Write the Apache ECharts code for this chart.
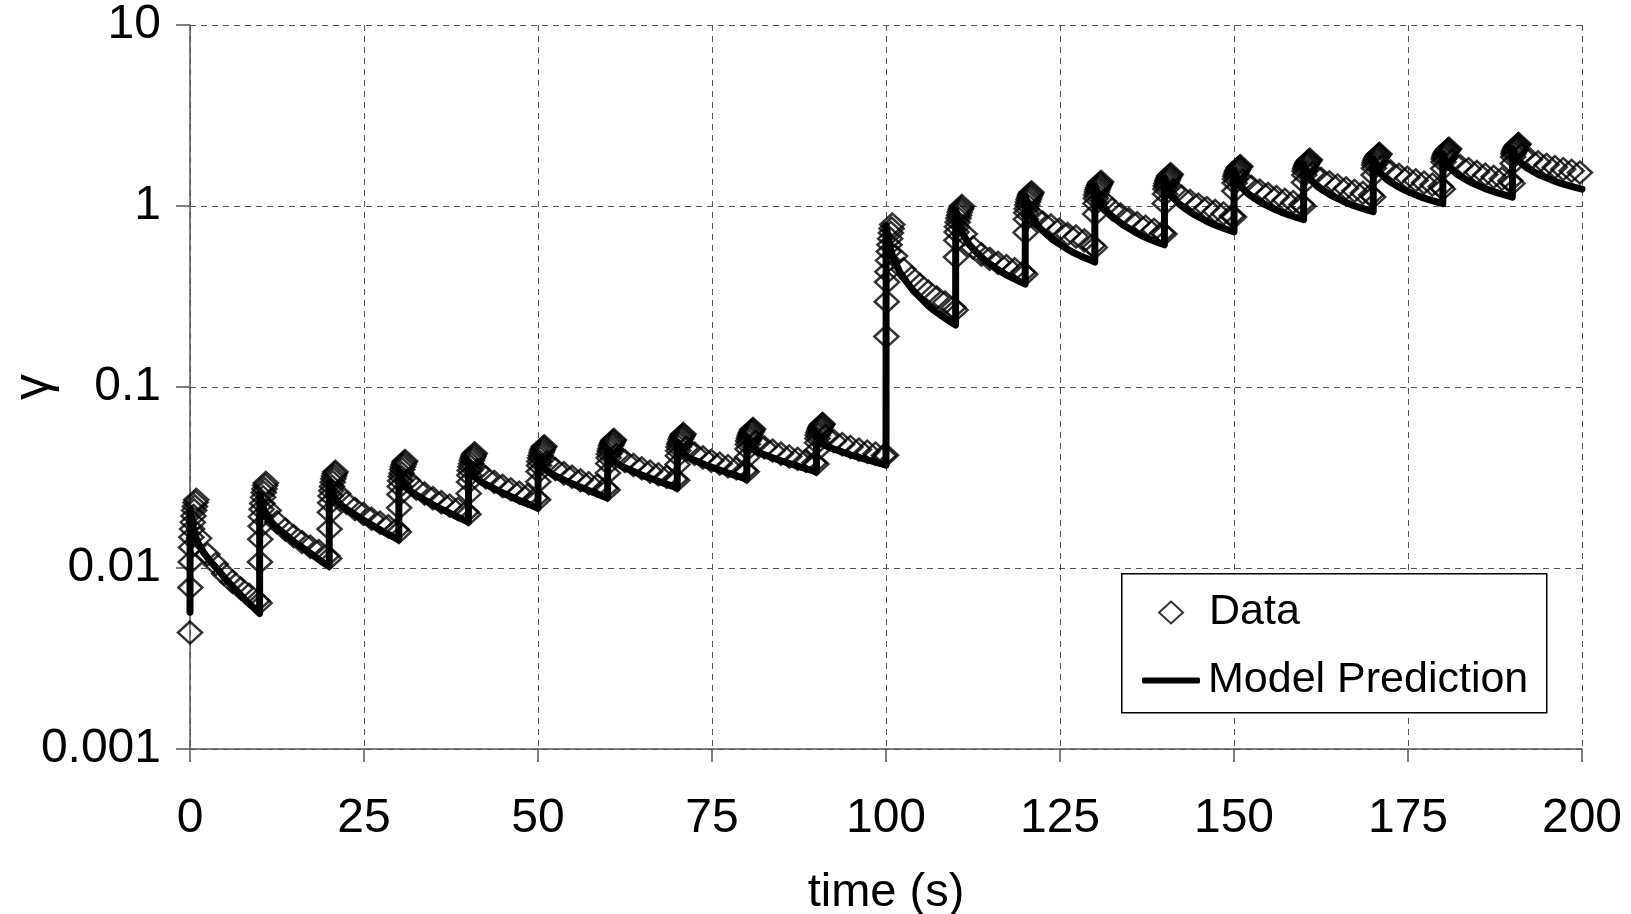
<!DOCTYPE html>
<html>
<head>
<meta charset="utf-8">
<title>gamma vs time</title>
<script src="https://cdn.jsdelivr.net/npm/echarts@6/dist/echarts.min.js"></script>
<style>
  html, body { margin: 0; padding: 0; background: #fff; }
  #chart { width: 1631px; height: 914px; }
</style>
</head>
<body>
<div id="chart"></div>
<script>
// each loading cycle starts every 10 s
var cycleStarts = [0, 10, 20, 30, 40, 50, 60, 70, 80, 90, 100, 110, 120, 130, 140, 150, 160, 170, 180, 190];

// measured points: time offsets inside a cycle, one row of gamma per cycle
var dataOffsets = [0, 0.05, 0.1, 0.15, 0.2, 0.3, 0.4, 0.5, 0.6, 0.7, 0.8, 0.9, 1.3, 2.5, 3.7, 4.9, 6.1, 7.3, 8.5, 9.7];
var gammaData = [
    [0.0044, 0.0078, 0.0108, 0.0130, 0.0148, 0.0164, 0.0179, 0.0194, 0.0208, 0.0219, 0.0230, 0.0238, 0.0146, 0.0119, 0.0105, 0.0093, 0.0084, 0.0077, 0.0071, 0.0066],
    [0.0064, 0.0108, 0.0144, 0.0170, 0.0192, 0.0211, 0.0227, 0.0246, 0.0261, 0.0273, 0.0286, 0.0295, 0.0208, 0.0179, 0.0163, 0.0150, 0.0139, 0.0131, 0.0124, 0.0117],
    [0.0113, 0.0164, 0.0203, 0.0229, 0.0250, 0.0267, 0.0282, 0.0298, 0.0311, 0.0322, 0.0333, 0.0340, 0.0257, 0.0229, 0.0212, 0.0199, 0.0187, 0.0178, 0.0170, 0.0163],
    [0.0158, 0.0215, 0.0255, 0.0282, 0.0303, 0.0320, 0.0334, 0.0350, 0.0363, 0.0373, 0.0383, 0.0390, 0.0305, 0.0275, 0.0258, 0.0243, 0.0231, 0.0221, 0.0212, 0.0204],
    [0.0198, 0.0258, 0.0299, 0.0325, 0.0346, 0.0363, 0.0377, 0.0392, 0.0404, 0.0414, 0.0423, 0.0430, 0.0347, 0.0317, 0.0299, 0.0284, 0.0272, 0.0261, 0.0252, 0.0244],
    [0.0238, 0.0300, 0.0341, 0.0368, 0.0388, 0.0405, 0.0419, 0.0433, 0.0445, 0.0454, 0.0464, 0.0470, 0.0384, 0.0352, 0.0334, 0.0319, 0.0305, 0.0294, 0.0285, 0.0276],
    [0.0270, 0.0335, 0.0378, 0.0406, 0.0427, 0.0443, 0.0458, 0.0473, 0.0485, 0.0494, 0.0504, 0.0510, 0.0422, 0.0390, 0.0371, 0.0355, 0.0341, 0.0329, 0.0319, 0.0310],
    [0.0305, 0.0373, 0.0417, 0.0445, 0.0466, 0.0483, 0.0497, 0.0512, 0.0525, 0.0534, 0.0543, 0.0550, 0.0461, 0.0428, 0.0408, 0.0391, 0.0377, 0.0365, 0.0355, 0.0345],
    [0.0340, 0.0409, 0.0454, 0.0482, 0.0503, 0.0520, 0.0534, 0.0549, 0.0561, 0.0570, 0.0580, 0.0586, 0.0498, 0.0464, 0.0445, 0.0428, 0.0413, 0.0401, 0.0391, 0.0381],
    [0.0375, 0.0446, 0.0492, 0.0520, 0.0542, 0.0558, 0.0573, 0.0588, 0.0600, 0.0609, 0.0619, 0.0625, 0.0536, 0.0503, 0.0483, 0.0466, 0.0451, 0.0439, 0.0428, 0.0418],
    [0.042, 0.19, 0.296, 0.38, 0.433, 0.50, 0.56, 0.61, 0.66, 0.71, 0.75, 0.79, 0.529, 0.447, 0.402, 0.366, 0.336, 0.312, 0.293, 0.275],
    [0.266, 0.522, 0.646, 0.718, 0.767, 0.814, 0.856, 0.890, 0.923, 0.953, 0.976, 1.0, 0.70, 0.59, 0.54, 0.51, 0.485, 0.465, 0.447, 0.43],
    [0.42, 0.714, 0.844, 0.917, 0.966, 1.013, 1.053, 1.086, 1.118, 1.146, 1.168, 1.19, 0.88, 0.81, 0.78, 0.74, 0.70, 0.678, 0.645, 0.605],
    [0.59, 0.903, 1.032, 1.103, 1.151, 1.195, 1.233, 1.264, 1.293, 1.320, 1.339, 1.36, 1.062, 0.958, 0.897, 0.846, 0.803, 0.768, 0.738, 0.71],
    [0.70, 1.033, 1.166, 1.240, 1.288, 1.333, 1.372, 1.403, 1.433, 1.459, 1.479, 1.50, 1.225, 1.125, 1.066, 1.016, 0.974, 0.938, 0.909, 0.88],
    [0.87, 1.209, 1.341, 1.412, 1.459, 1.502, 1.539, 1.568, 1.597, 1.622, 1.641, 1.66, 1.379, 1.276, 1.216, 1.164, 1.119, 1.081, 1.050, 1.02],
    [1.0, 1.350, 1.483, 1.554, 1.600, 1.643, 1.680, 1.709, 1.738, 1.762, 1.781, 1.80, 1.518, 1.413, 1.351, 1.298, 1.252, 1.213, 1.181, 1.15],
    [1.12, 1.482, 1.618, 1.691, 1.738, 1.782, 1.819, 1.848, 1.877, 1.902, 1.921, 1.94, 1.656, 1.550, 1.486, 1.432, 1.385, 1.345, 1.312, 1.28],
    [1.24, 1.610, 1.748, 1.821, 1.868, 1.912, 1.949, 1.979, 2.007, 2.032, 2.051, 2.07, 1.774, 1.663, 1.597, 1.540, 1.490, 1.449, 1.414, 1.38],
    [1.33, 1.719, 1.863, 1.940, 1.990, 2.035, 2.074, 2.104, 2.134, 2.160, 2.180, 2.20, 1.917, 1.808, 1.744, 1.688, 1.639, 1.598, 1.564, 1.53]
];

// model curve: jump at the cycle start, then decay
var modelOffsets = [0, 0.02, 0.5, 1, 2, 3, 4, 5, 6, 7, 8, 9];
var gammaModel = [
    [0.0057, 0.021, 0.0166, 0.0141, 0.0121, 0.0108, 0.0098, 0.0088, 0.0080, 0.0073, 0.0066, 0.0061],
    [0.0056, 0.0255, 0.0216, 0.0194, 0.0174, 0.0161, 0.0150, 0.0139, 0.0131, 0.0123, 0.0115, 0.0108],
    [0.0102, 0.0295, 0.0259, 0.0237, 0.0218, 0.0205, 0.0194, 0.0183, 0.0174, 0.0165, 0.0157, 0.0150],
    [0.0143, 0.034, 0.0303, 0.0280, 0.0260, 0.0247, 0.0234, 0.0223, 0.0213, 0.0204, 0.0195, 0.0187],
    [0.0179, 0.0375, 0.0339, 0.0317, 0.0296, 0.0283, 0.0271, 0.0259, 0.0249, 0.0239, 0.0230, 0.0222],
    [0.0214, 0.041, 0.0374, 0.0351, 0.0330, 0.0316, 0.0303, 0.0291, 0.0281, 0.0271, 0.0261, 0.0252],
    [0.0244, 0.0445, 0.0409, 0.0386, 0.0365, 0.0351, 0.0338, 0.0325, 0.0315, 0.0304, 0.0295, 0.0286],
    [0.0277, 0.048, 0.0444, 0.0421, 0.0400, 0.0386, 0.0372, 0.0360, 0.0349, 0.0338, 0.0328, 0.0319],
    [0.031, 0.051, 0.0474, 0.0452, 0.0430, 0.0416, 0.0403, 0.0390, 0.0379, 0.0369, 0.0358, 0.0349],
    [0.034, 0.054, 0.0504, 0.0482, 0.0461, 0.0447, 0.0434, 0.0421, 0.0410, 0.0399, 0.0389, 0.0379],
    [0.037, 0.78, 0.605, 0.520, 0.430, 0.379, 0.338, 0.310, 0.283, 0.263, 0.247, 0.233],
    [0.22, 0.95, 0.787, 0.703, 0.610, 0.555, 0.510, 0.477, 0.447, 0.422, 0.403, 0.386],
    [0.37, 1.13, 0.956, 0.865, 0.763, 0.702, 0.651, 0.614, 0.579, 0.551, 0.528, 0.509],
    [0.49, 1.30, 1.118, 1.021, 0.911, 0.845, 0.789, 0.748, 0.710, 0.678, 0.653, 0.631],
    [0.61, 1.43, 1.247, 1.148, 1.036, 0.967, 0.909, 0.867, 0.826, 0.793, 0.766, 0.742],
    [0.72, 1.57, 1.385, 1.285, 1.170, 1.099, 1.039, 0.995, 0.952, 0.917, 0.889, 0.864],
    [0.84, 1.70, 1.507, 1.401, 1.280, 1.205, 1.142, 1.095, 1.049, 1.012, 0.982, 0.956],
    [0.93, 1.83, 1.631, 1.523, 1.397, 1.319, 1.252, 1.203, 1.156, 1.116, 1.085, 1.057],
    [1.03, 1.95, 1.745, 1.633, 1.503, 1.421, 1.352, 1.301, 1.251, 1.211, 1.177, 1.148],
    [1.12, 2.08, 1.876, 1.762, 1.631, 1.549, 1.478, 1.426, 1.375, 1.333, 1.299, 1.269]
];
var modelEnd = [200, 1.24];

var FONT = 'Liberation Sans, Arial, sans-serif';

// turn cycle rows into [time, gamma] pairs
function toPoints(starts, offsets, rows) {
    var pts = [];
    for (var i = 0; i < rows.length; i++) {
        for (var j = 0; j < offsets.length; j++) {
            pts.push([+(starts[i] + offsets[j]).toFixed(2), rows[i][j]]);
        }
    }
    return pts;
}

var dataPoints = toPoints(cycleStarts, dataOffsets, gammaData);
var modelPoints = toPoints(cycleStarts, modelOffsets, gammaModel);
modelPoints.push(modelEnd);

var gridLine = { show: true, lineStyle: { color: '#555', width: 1, type: [6, 5] } };

var chart = echarts.init(document.getElementById('chart'));

chart.setOption({
    animation: false,
    backgroundColor: '#fff',
    textStyle: { fontFamily: FONT, color: '#000' },
    grid: { left: 190, right: 49, top: 25, bottom: 165, containLabel: false, outerBoundsMode: 'none' },
    xAxis: {
        type: 'value',
        min: 0,
        max: 200,
        interval: 25,
        name: 'time (s)',
        nameLocation: 'middle',
        nameGap: 121,
        nameMoveOverlap: false,
        nameTextStyle: { fontSize: 47, color: '#000', fontFamily: FONT },
        axisLine: { show: true, onZero: false, lineStyle: { color: '#555', width: 1.5 } },
        axisTick: { show: true, length: 13, lineStyle: { color: '#555', width: 1.5 } },
        axisLabel: { fontSize: 48, color: '#000', margin: 46, fontFamily: FONT },
        splitLine: gridLine
    },
    yAxis: {
        type: 'log',
        logBase: 10,
        min: 0.001,
        max: 10,
        name: 'γ',
        nameLocation: 'middle',
        nameGap: 130,
        nameMoveOverlap: false,
        nameTextStyle: { fontSize: 52, color: '#000', fontFamily: FONT },
        axisLine: { show: true, lineStyle: { color: '#555', width: 1.5 } },
        axisTick: { show: true, length: 14, lineStyle: { color: '#555', width: 1.5 } },
        axisLabel: {
            fontSize: 48, color: '#000', margin: 29, fontFamily: FONT,
            formatter: function (v) { return String(+v.toPrecision(1)); }
        },
        splitLine: gridLine
    },
    graphic: [{
        type: 'rect',
        left: 1121,
        top: 573,
        z: 3,
        shape: { width: 425, height: 139 },
        style: { fill: '#fff', stroke: '#000', lineWidth: 1.5 }
    }],
    legend: [{
        data: ['Data'],
        left: 1158,
        top: 591,
        padding: 0,
        itemWidth: 24,
        itemHeight: 22,
        selectedMode: false,
        z: 5,
        itemStyle: { color: 'rgba(0,0,0,0)', borderColor: '#000', borderWidth: 2 },
        textStyle: { fontSize: 43, color: '#000', fontFamily: FONT, padding: [0, 0, 0, 21] }
    }, {
        data: [{ name: 'Model Prediction', icon: 'roundRect' }],
        left: 1142,
        top: 659,
        padding: 0,
        itemWidth: 58,
        itemHeight: 6,
        selectedMode: false,
        z: 5,
        itemStyle: { color: '#000', borderWidth: 0 },
        textStyle: { fontSize: 43, color: '#000', fontFamily: FONT, padding: [0, 0, 0, 3] }
    }],
    series: [{
        name: 'Data',
        type: 'scatter',
        symbol: 'diamond',
        symbolSize: [24, 22],
        z: 2,
        itemStyle: { color: 'rgba(0,0,0,0)', borderColor: '#000', borderWidth: 2.5 },
        data: dataPoints
    }, {
        name: 'Model Prediction',
        type: 'line',
        showSymbol: false,
        symbol: 'none',
        z: 3,
        color: '#000',
        lineStyle: { color: '#000', width: 7, cap: 'round', join: 'round' },
        data: modelPoints
    }]
});
</script>
</body>
</html>
